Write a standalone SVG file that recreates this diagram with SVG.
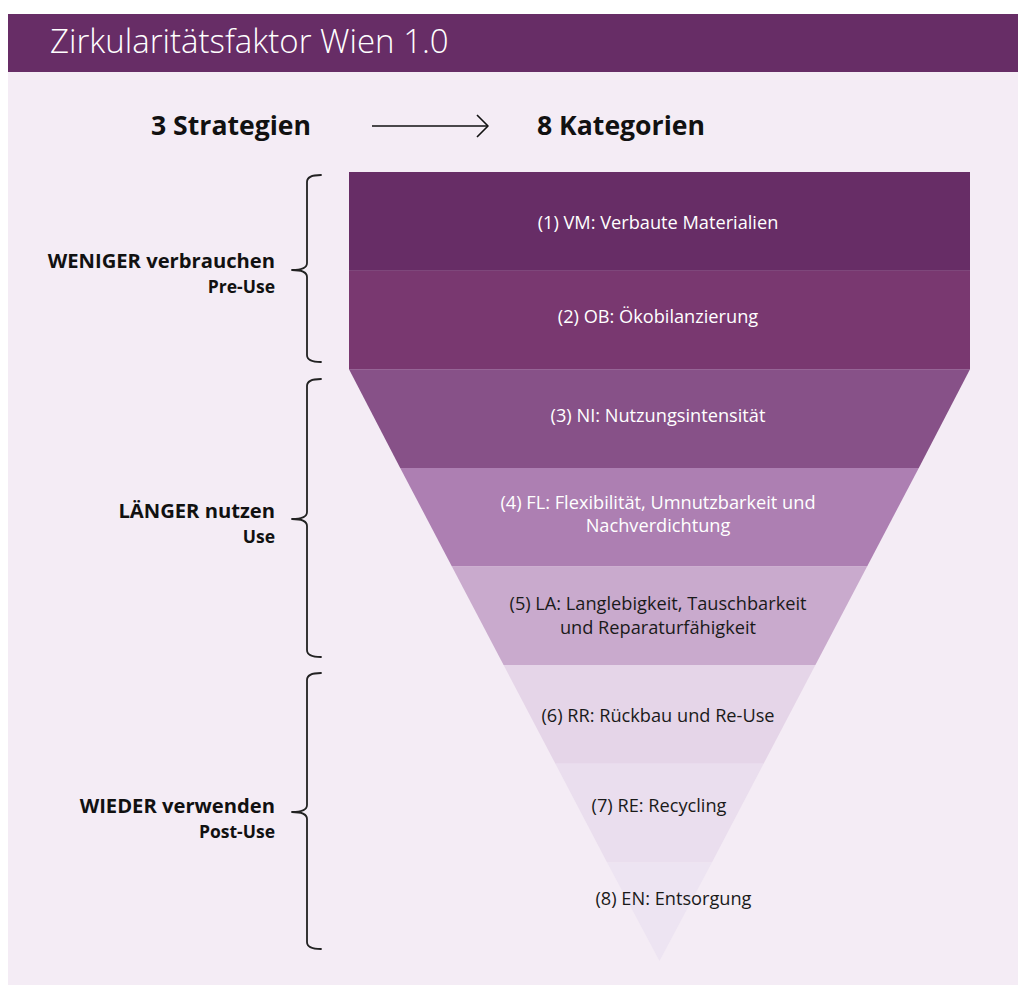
<svg xmlns="http://www.w3.org/2000/svg" width="1018" height="985" viewBox="0 0 1018 985">
<style>
.t{font-family:"Open Sans","Noto Sans","Liberation Sans",sans-serif}
.cat{font-size:18.2px;text-anchor:middle}
.w{fill:#ffffff}
.d{fill:#1a1a1a}
.s1{font-size:20.2px;font-weight:bold;text-anchor:end;fill:#111}
.s2{font-size:17.5px;font-weight:bold;text-anchor:end;fill:#111}
.h{font-size:26.6px;font-weight:bold;fill:#111}
.br{fill:none;stroke:#222;stroke-width:1.8;stroke-linejoin:round;stroke-linecap:round}
</style>
<rect x="0" y="0" width="1018" height="985" fill="#ffffff"/>
<rect x="8" y="72" width="1010" height="913" fill="#f4ecf5"/>
<g id="header">
<rect x="8" y="14" width="1010" height="58" fill="#672d66"/>
<text class="t" x="50" y="53" font-size="33" font-weight="300" fill="#ffffff">Zirkularitätsfaktor Wien 1.0</text>
</g>
<g id="head-strategien"><text class="t h" x="151" y="135">3 Strategien</text></g>
<g id="head-kategorien"><text class="t h" x="537" y="135">8 Kategorien</text></g>
<g id="connectors">
<path d="M372,126 H487" stroke="#111" stroke-width="1.6" fill="none"/>
<path d="M477,115 L488,126 L477,137" stroke="#111" stroke-width="1.6" fill="none" stroke-linejoin="round"/>
</g>
<g id="band1">
<rect x="349" y="172" width="621" height="98.8" fill="#672d66"/>
<text class="t cat w" x="658" y="229">(1) VM: Verbaute Materialien</text>
</g>
<g id="band2">
<rect x="349" y="270.6" width="621" height="98.8" fill="#793870"/>
<text class="t cat w" x="658" y="323">(2) OB: Ökobilanzierung</text>
</g>
<g id="band3">
<polygon points="349,369.25 970,369.25 918.8,467.9 400.2,467.9" fill="#875188"/>
<text class="t cat w" x="658" y="422">(3) NI: Nutzungsintensität</text>
</g>
<g id="band4">
<polygon points="400.2,467.9 918.8,467.9 867.1,566.5 451.9,566.5" fill="#ad7fb2"/>
<text class="t cat w" x="658" y="509">(4) FL: Flexibilität, Umnutzbarkeit und</text>
<text class="t cat w" x="658" y="532">Nachverdichtung</text>
</g>
<g id="band5">
<polygon points="451.9,566.5 867.1,566.5 815.4,665.1 503.6,665.1" fill="#c9aacd"/>
<text class="t cat d" x="658" y="610">(5) LA: Langlebigkeit, Tauschbarkeit</text>
<text class="t cat d" x="658" y="634">und Reparaturfähigkeit</text>
</g>
<g id="band6">
<polygon points="503.6,665.1 815.4,665.1 763.6,763.75 555.4,763.75" fill="#e5d5e8"/>
<text class="t cat d" x="658" y="722">(6) RR: Rückbau und Re-Use</text>
</g>
<g id="band7">
<polygon points="555.4,763.75 763.6,763.75 711.9,862.4 607.1,862.4" fill="#eadeee"/>
<text class="t cat d" x="659" y="812">(7) RE: Recycling</text>
</g>
<g id="band8">
<polygon points="607.1,862.4 711.9,862.4 659.5,961" fill="#ede4f2"/>
<text class="t cat d" x="673.5" y="905">(8) EN: Entsorgung</text>
</g>
<g id="strategy1">
<path class="br" d="M321,175 Q307,175 307,182 V263 Q307,270 292,270 Q307,270 307,277 V355 Q307,362 321,362"/>
<text class="t s1" x="275" y="268">WENIGER verbrauchen</text>
<text class="t s2" x="275" y="293">Pre-Use</text>
</g>
<g id="strategy2">
<path class="br" d="M321,379 Q307,379 307,386 V512 Q307,519 292,519 Q307,519 307,526 V650 Q307,657 321,657"/>
<text class="t s1" x="275" y="518">LÄNGER nutzen</text>
<text class="t s2" x="275" y="543">Use</text>
</g>
<g id="strategy3">
<path class="br" d="M321,673 Q307,673 307,680 V805 Q307,812 292,812 Q307,812 307,819 V942 Q307,949 321,949"/>
<text class="t s1" x="275" y="813">WIEDER verwenden</text>
<text class="t s2" x="275" y="838">Post-Use</text>
</g>
</svg>
